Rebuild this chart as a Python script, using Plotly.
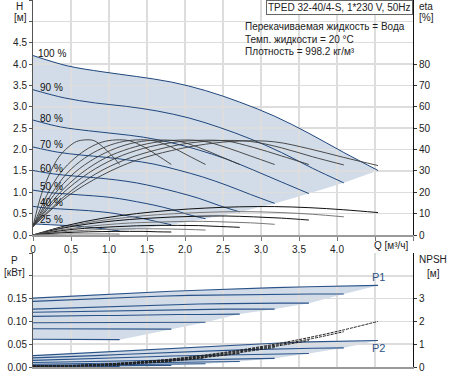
import plotly.graph_objects as go

SPEED_LABELS = ["100 %", "90 %", "80 %", "70 %", "60 %", "50 %", "40 %", "25 %"]

# flow points of each speed curve [m3/h]
Q = [
    [0, 0.45, 0.91, 1.36, 1.82, 2.27, 2.72, 3.18, 3.63, 4.09, 4.54],
    [0, 0.41, 0.82, 1.23, 1.64, 2.05, 2.45, 2.86, 3.27, 3.68, 4.09],
    [0, 0.36, 0.73, 1.09, 1.45, 1.82, 2.18, 2.54, 2.90, 3.27, 3.63],
    [0, 0.32, 0.64, 0.95, 1.27, 1.59, 1.91, 2.23, 2.54, 2.86, 3.18],
    [0, 0.27, 0.54, 0.82, 1.09, 1.36, 1.63, 1.90, 2.18, 2.45, 2.72],
    [0, 0.23, 0.45, 0.68, 0.91, 1.14, 1.36, 1.59, 1.82, 2.04, 2.27],
    [0, 0.18, 0.36, 0.55, 0.73, 0.91, 1.09, 1.27, 1.46, 1.64, 1.82],
    [0, 0.11, 0.23, 0.34, 0.46, 0.57, 0.68, 0.80, 0.91, 1.03, 1.14],
]

# head [m]
H = [
    [4.20, 3.96, 3.82, 3.71, 3.58, 3.38, 3.11, 2.78, 2.38, 1.93, 1.51],
    [3.40, 3.21, 3.09, 3.01, 2.90, 2.74, 2.52, 2.25, 1.93, 1.56, 1.22],
    [2.69, 2.53, 2.44, 2.37, 2.29, 2.16, 1.99, 1.78, 1.52, 1.24, 0.97],
    [2.06, 1.94, 1.87, 1.82, 1.75, 1.66, 1.52, 1.36, 1.17, 0.95, 0.74],
    [1.51, 1.43, 1.38, 1.34, 1.29, 1.22, 1.12, 1.00, 0.86, 0.69, 0.54],
    [1.05, 0.99, 0.96, 0.93, 0.90, 0.85, 0.78, 0.70, 0.60, 0.48, 0.38],
    [0.67, 0.63, 0.61, 0.59, 0.57, 0.54, 0.50, 0.44, 0.38, 0.31, 0.24],
    [0.26, 0.25, 0.24, 0.23, 0.22, 0.21, 0.19, 0.17, 0.15, 0.12, 0.09],
]

# pump efficiency [%]
ETA = [
    [4, 18.0, 28.0, 35.0, 39.5, 42.5, 44.0, 43.6, 40.4, 36.3, 32.5],
    [4, 18.0, 28.5, 35.5, 40.0, 43.0, 44.2, 43.8, 40.8, 36.6, 32.8],
    [4, 18.5, 29.0, 36.0, 40.5, 43.2, 44.3, 44.0, 41.0, 37.0, 33.0],
    [4, 18.5, 29.0, 36.0, 40.5, 43.3, 44.4, 44.0, 41.0, 37.0, 33.0],
    [4, 18.5, 29.0, 36.0, 40.6, 43.4, 44.4, 44.0, 41.0, 37.0, 33.0],
    [4, 18.5, 29.0, 36.0, 40.6, 43.4, 44.5, 44.1, 41.2, 37.2, 33.0],
    [4, 18.5, 29.0, 36.0, 40.6, 43.5, 44.5, 44.1, 41.2, 37.2, 33.0],
    [4, 19.0, 29.5, 36.5, 41.0, 43.7, 44.5, 44.2, 41.5, 37.5, 33.0],
]

# total efficiency [%]
ETA_TOT = [
    [0, 4.5, 7.8, 10.0, 11.6, 12.6, 13.2, 13.3, 12.8, 11.8, 10.5],
    [0, 3.7, 6.4, 8.2, 9.5, 10.3, 10.8, 10.9, 10.5, 9.7, 8.5],
    [0, 3.0, 5.2, 6.7, 7.7, 8.4, 8.8, 8.9, 8.5, 7.9, 7.0],
    [0, 2.2, 3.7, 4.8, 5.6, 6.0, 6.3, 6.4, 6.1, 5.7, 5.0],
    [0, 1.5, 2.7, 3.4, 3.9, 4.3, 4.5, 4.5, 4.4, 4.0, 3.6],
    [0, 1.0, 1.7, 2.2, 2.6, 2.8, 2.9, 2.9, 2.8, 2.6, 2.3],
    [0, 0.6, 1.0, 1.3, 1.5, 1.6, 1.7, 1.7, 1.7, 1.5, 1.4],
    [0, 0.2, 0.3, 0.4, 0.5, 0.5, 0.5, 0.5, 0.5, 0.5, 0.4],
]

# input power P1 [kW]
P1 = [
    [0.151, 0.155, 0.159, 0.163, 0.166, 0.169, 0.172, 0.174, 0.176, 0.178, 0.179],
    [0.144, 0.147, 0.150, 0.153, 0.155, 0.157, 0.158, 0.159, 0.160, 0.160, 0.160],
    [0.127, 0.129, 0.131, 0.133, 0.135, 0.137, 0.138, 0.139, 0.140, 0.140, 0.140],
    [0.120, 0.121, 0.122, 0.123, 0.124, 0.125, 0.126, 0.126, 0.127, 0.127, 0.127],
    [0.111, 0.112, 0.112, 0.113, 0.113, 0.114, 0.114, 0.115, 0.115, 0.116, 0.116],
    [0.097, 0.097, 0.097, 0.097, 0.098, 0.098, 0.098, 0.098, 0.098, 0.098, 0.098],
    [0.084, 0.084, 0.084, 0.084, 0.084, 0.084, 0.083, 0.083, 0.083, 0.083, 0.083],
    [0.061, 0.061, 0.061, 0.061, 0.061, 0.060, 0.060, 0.060, 0.060, 0.060, 0.060],
]

# shaft power P2 [kW]
P2 = [
    [0.025, 0.029, 0.033, 0.037, 0.041, 0.045, 0.049, 0.052, 0.055, 0.057, 0.058],
    [0.020, 0.022, 0.025, 0.028, 0.031, 0.033, 0.036, 0.038, 0.040, 0.041, 0.042],
    [0.0145, 0.016, 0.018, 0.020, 0.022, 0.024, 0.025, 0.027, 0.028, 0.029, 0.0295],
    [0.010, 0.011, 0.012, 0.0135, 0.0145, 0.0155, 0.0165, 0.0175, 0.018, 0.0185, 0.019],
    [0.006, 0.0066, 0.0073, 0.008, 0.0087, 0.0094, 0.010, 0.0107, 0.0113, 0.0118, 0.0122],
    [0.0035, 0.0039, 0.0043, 0.0047, 0.0051, 0.0055, 0.0059, 0.0063, 0.0066, 0.0069, 0.0071],
    [0.0018, 0.002, 0.0022, 0.0024, 0.0026, 0.0028, 0.003, 0.0032, 0.0034, 0.0035, 0.0036],
    [0.0005, 0.0005, 0.0006, 0.0006, 0.0007, 0.0007, 0.0008, 0.0008, 0.0008, 0.0009, 0.0009],
]

# NPSH [m]
NPSH = [
    [0.04, 0.06, 0.12, 0.22, 0.35, 0.53, 0.74, 1.00, 1.29, 1.63, 2.00],
    [0.04, 0.05, 0.10, 0.18, 0.28, 0.42, 0.58, 0.78, 1.00, 1.25, 1.55],
    [0.04, 0.045, 0.08, 0.14, 0.22, 0.32, 0.44, 0.58, 0.76, 0.95, 1.16],
    [0.03, 0.04, 0.07, 0.11, 0.17, 0.24, 0.32, 0.43, 0.54, 0.70, 0.85],
    [0.03, 0.04, 0.06, 0.09, 0.13, 0.18, 0.23, 0.30, 0.39, 0.49, 0.59],
    [0.03, 0.03, 0.05, 0.07, 0.09, 0.12, 0.15, 0.21, 0.26, 0.32, 0.40],
    [0.03, 0.03, 0.04, 0.05, 0.06, 0.08, 0.11, 0.13, 0.17, 0.20, 0.25],
    [0.02, 0.02, 0.02, 0.03, 0.03, 0.03, 0.04, 0.04, 0.05, 0.06, 0.07],
]

X_TICKS = [0, 0.5, 1.0, 1.5, 2.0, 2.5, 3.0, 3.5, 4.0, 4.5, 5.0]
X_TICK_TEXT = ["0", "0,5", "1,0", "1,5", "2,0", "2,5", "3,0", "3,5", "4,0", "", ""]
H_TICKS = [0, 0.5, 1.0, 1.5, 2.0, 2.5, 3.0, 3.5, 4.0, 4.5, 5.0, 5.5]
H_TICK_TEXT = ["0.0", "0.5", "1.0", "1.5", "2.0", "2.5", "3.0", "3.5", "4.0", "4.5", "", ""]
ETA_TICKS = [0, 10, 20, 30, 40, 50, 60, 70, 80]
P_TICKS = [0, 0.05, 0.10, 0.15, 0.20, 0.25]
P_TICK_TEXT = ["0.00", "0.05", "0.10", "0.15", "", ""]
NPSH_TICKS = [0, 1, 2, 3]

INFO_LINES = ["Перекачиваемая жидкость = Вода", "Темп. жидкости = 20 °C", "Плотность = 998.2 кг/м³"]
TITLE = "TPED 32-40/4-S, 1*230 V, 50Hz"

FONT = "Liberation Sans, Arial, sans-serif"
FILL = "#d1dce8"
BLUE = "#1f467c"
PBLUE = "#2b5389"
GRID = "#dddddd"


def region_path(qs, vals):
    pts = list(zip(qs[0], vals[0]))
    pts += [(qs[i][-1], vals[i][-1]) for i in range(1, len(qs))]
    pts += list(zip(qs[-1][::-1], vals[-1][::-1]))[1:]
    return "M " + " L ".join(f"{x},{y}" for x, y in pts) + " Z"


fig = go.Figure()

# total efficiency curves
for i in range(len(Q)):
    fig.add_trace(go.Scatter(x=Q[i], y=ETA_TOT[i], xaxis="x", yaxis="y2", mode="lines",
                             line=dict(color="#111" if i % 2 == 0 else "#777", width=1, shape="spline"),
                             hoverinfo="skip", showlegend=False))
# pump efficiency curves
for i in range(len(Q)):
    fig.add_trace(go.Scatter(x=Q[i], y=ETA[i], xaxis="x", yaxis="y2", mode="lines",
                             line=dict(color="#3a3a3a", width=0.9, shape="spline"),
                             hoverinfo="skip", showlegend=False))
# head curves
for i in range(len(Q)):
    fig.add_trace(go.Scatter(x=Q[i], y=H[i], xaxis="x", yaxis="y", mode="lines",
                             line=dict(color=BLUE, width=1, shape="spline"),
                             hoverinfo="skip", showlegend=False))
# power curves
for i in range(len(Q)):
    fig.add_trace(go.Scatter(x=Q[i], y=P1[i], xaxis="x2", yaxis="y3", mode="lines",
                             line=dict(color=PBLUE, width=1.1), hoverinfo="skip", showlegend=False))
    fig.add_trace(go.Scatter(x=Q[i], y=P2[i], xaxis="x2", yaxis="y3", mode="lines",
                             line=dict(color=PBLUE, width=1.1), hoverinfo="skip", showlegend=False))
# NPSH curves
for i in range(len(Q)):
    fig.add_trace(go.Scatter(x=Q[i], y=NPSH[i], xaxis="x2", yaxis="y4", mode="lines",
                             line=dict(color="#222", width=1, dash="3px,1px", shape="spline"),
                             hoverinfo="skip", showlegend=False))

shapes = [
    dict(type="path", path=region_path(Q, H), xref="x", yref="y", fillcolor=FILL,
         line=dict(width=0), layer="below"),
    dict(type="path", path=region_path(Q, P1), xref="x2", yref="y3", fillcolor=FILL,
         line=dict(width=0), layer="below"),
    dict(type="path", path=region_path(Q, P2), xref="x2", yref="y3", fillcolor=FILL,
         line=dict(width=0), layer="below"),
]

tick_font = dict(family=FONT, size=10, color="#222")
ann_font = dict(family=FONT, size=10, color="#222")

annotations = []
for i, lab in enumerate(SPEED_LABELS):
    annotations.append(dict(x=0.245, y=H[i][0], xref="x", yref="y", text=lab, showarrow=False,
                            xanchor="center", yanchor="middle", yshift=2 + (i // 5) * 2,
                            font=dict(family=FONT, size=10, color="#111")))


def px_ann(text, px, py, xanchor="center", **kw):
    return dict(x=(px - 33) / 380, y=(367 - py) / 367, xref="paper", yref="paper", text=text,
                showarrow=False, xanchor=xanchor, yanchor="middle", font=ann_font, **kw)


annotations += [
    px_ann("H", 19, 6),
    px_ann("[м]", 20, 18),
    px_ann("eta", 426, 7),
    px_ann("[%]", 426, 18),
    px_ann("Q [м³/ч]", 372, 245, xanchor="left"),
    px_ann("P", 14, 260),
    px_ann("[кВт]", 14, 272),
    px_ann("NPSH", 433, 259),
    px_ann("[м]", 433, 273),
]
for k, line in enumerate(INFO_LINES):
    annotations.append(px_ann(line, 243, 27 + k * 12, xanchor="left"))
annotations.append(dict(x=1, y=1, xref="paper", yref="paper", text=TITLE, showarrow=False,
                        xanchor="right", yanchor="top", font=ann_font, bgcolor="white",
                        bordercolor="#666", borderwidth=1, borderpad=1))
annotations.append(dict(x=Q[0][-1], y=P1[0][-1], xref="x2", yref="y3", text="P1", showarrow=False,
                        xanchor="center", yanchor="middle", yshift=8,
                        font=dict(family=FONT, size=11, color="#2f5286")))
annotations.append(dict(x=Q[0][-1], y=P2[0][-1], xref="x2", yref="y3", text="P2", showarrow=False,
                        xanchor="center", yanchor="middle", yshift=-7,
                        font=dict(family=FONT, size=11, color="#2f5286")))

top_dom = [(367 - 235) / 367, 1]
bot_dom = [0, (367 - 253) / 367]

fig.update_layout(
    width=453, height=376,
    margin=dict(l=33, r=40, t=0, b=9, pad=0),
    paper_bgcolor="white", plot_bgcolor="white",
    showlegend=False, hovermode=False,
    shapes=shapes, annotations=annotations,
    xaxis=dict(domain=[0, 1], range=[0, 5], anchor="y", tickvals=X_TICKS, ticktext=X_TICK_TEXT,
               showgrid=True, gridcolor=GRID, gridwidth=1.5, zeroline=False,
               showline=True, linecolor="#9a9a9a", linewidth=2, ticks="outside", ticklen=4,
               tickcolor="#777", tickfont=tick_font),
    yaxis=dict(domain=top_dom, range=[0, 5.5], tickvals=H_TICKS, ticktext=H_TICK_TEXT,
               showgrid=True, gridcolor=GRID, gridwidth=1.5, zeroline=False,
               showline=True, linecolor="#555", linewidth=1, ticks="outside", ticklen=3,
               tickcolor="#555", tickfont=tick_font),
    yaxis2=dict(overlaying="y", side="right", anchor="x", range=[0, 110], tickvals=ETA_TICKS,
                showgrid=False, zeroline=False, showline=True, linecolor="#111", linewidth=1,
                ticks="outside", ticklen=3, tickcolor="#333", tickfont=tick_font),
    xaxis2=dict(domain=[0, 1], range=[0, 5], anchor="y3", tickvals=X_TICKS, showticklabels=False,
                showgrid=True, gridcolor=GRID, gridwidth=1.5, zeroline=False,
                showline=True, linecolor="#9a9a9a", linewidth=2, ticks=""),
    yaxis3=dict(domain=bot_dom, range=[0, 0.25], anchor="x2", tickvals=P_TICKS, ticktext=P_TICK_TEXT,
                showgrid=True, gridcolor=GRID, gridwidth=1.5, zeroline=False,
                showline=True, linecolor="#555", linewidth=1, ticks="outside", ticklen=3,
                tickcolor="#555", tickfont=tick_font),
    yaxis4=dict(overlaying="y3", side="right", anchor="x2", range=[0, 5], tickvals=NPSH_TICKS,
                showgrid=False, zeroline=False, showline=True, linecolor="#111", linewidth=1,
                ticks="outside", ticklen=3, tickcolor="#333", tickfont=tick_font),
)

fig.write_html("out.html", config={"displayModeBar": False, "staticPlot": True},
               post_script="document.body.style.margin='0px';document.body.style.padding='0px';")
